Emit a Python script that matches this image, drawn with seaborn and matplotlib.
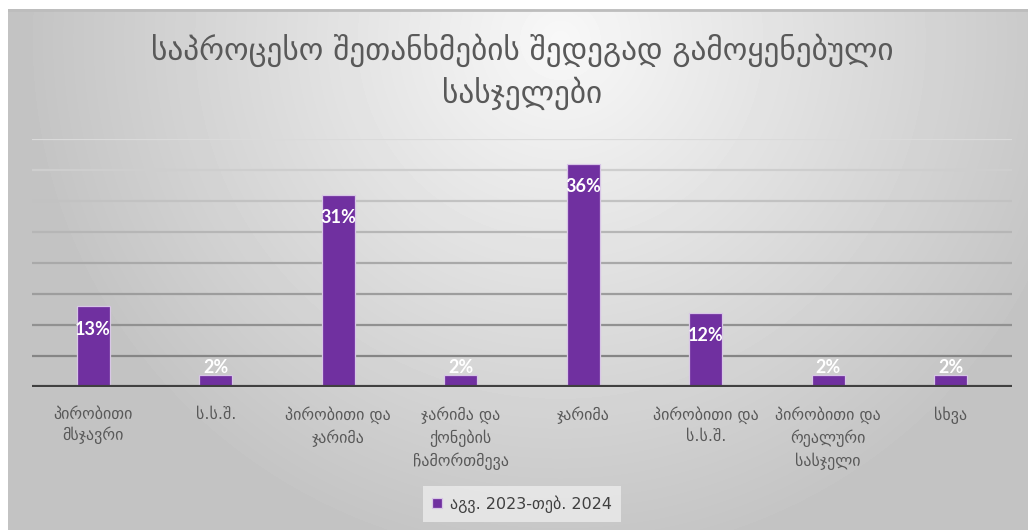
import numpy as np
import pandas as pd
import matplotlib
matplotlib.use("Agg")
import matplotlib.pyplot as plt
import seaborn as sns
from matplotlib.colors import to_rgb

# Data
categories = [
    "პირობითი\nმსჯავრი",
    "ს.ს.შ.",
    "პირობითი და\nჯარიმა",
    "ჯარიმა და\nქონების\nჩამორთმევა",
    "ჯარიმა",
    "პირობითი და\nს.ს.შ.",
    "პირობითი და\nრეალური\nსასჯელი",
    "სხვა",
]
shares = [13, 2, 31, 2, 36, 12, 2, 2]
series_name = "აგვ. 2023-თებ. 2024"
title_text = "საპროცესო შეთანხმების შედეგად გამოყენებული\nსასჯელები"

W, H, DPI = 1028, 530, 100
BAR = "#7030A0"
TEXT = "#595959"

sns.set_theme(style="white")
plt.rcParams["font.family"] = ["DejaVu Sans"]

df = pd.DataFrame({"category": categories, "share": shares, "period": series_name})

fig = plt.figure(figsize=(W / DPI, H / DPI), dpi=DPI)
fig.patch.set_facecolor("white")

# Slide background: soft radial grey gradient
bg = fig.add_axes([8 / W, 0, 1 - 8 / W, (H - 9) / H], zorder=-10)
yy, xx = np.mgrid[9:H, 8:W]
r = np.sqrt(((xx - 560) / 530.0) ** 2 + ((yy - 40) / 520.0) ** 2)
v = 248 - 52 * np.clip(r, 0, 1)
bg.imshow(v, cmap="gray", vmin=0, vmax=255, aspect="auto", interpolation="bilinear")
bg.axhline(0, color="#bdbdbd", lw=2)
bg.set_axis_off()

ax = fig.add_axes([32 / W, (H - 387) / H, 980 / W, 248 / H])
ax.patch.set_alpha(0)

sns.barplot(data=df, x="category", y="share", hue="period", palette=[BAR],
            saturation=1, width=0.27, ax=ax, edgecolor="#d8c6e6",
            linewidth=0.9, zorder=3)

ax.set_ylim(0, 40)
ax.set_xlim(-0.5, len(categories) - 0.5)
ticks = np.arange(5, 45, 5)
ax.set_yticks(ticks)
ax.set_yticklabels([])
ax.tick_params(left=False, bottom=False)

# Gridlines shaded lighter towards the top
light, dark = np.array(to_rgb("#dadada")), np.array(to_rgb("#858585"))
for t in ticks:
    f = (t - ticks.min()) / (ticks.max() - ticks.min())
    ax.axhline(t, color=tuple(dark + (light - dark) * f), lw=1.6, zorder=1)
ax.axhline(0, color="#404040", lw=3, zorder=4)

for s in ax.spines.values():
    s.set_visible(False)

ax.set_xlabel("")
ax.set_ylabel("")
ax.set_xticks(range(len(categories)))
ax.set_xticklabels(categories, fontsize=11.5, color=TEXT, linespacing=1.4)
ax.tick_params(axis="x", pad=8)

# Value labels
for i, val in enumerate(shares):
    off = -23 if val >= 5 else 7
    ax.annotate(f"{val}%", (i, val), xytext=(0, off), textcoords="offset pixels",
                ha="center", va="center", color="white", fontsize=13,
                fontweight="bold", family=["Lato", "DejaVu Sans"], zorder=5)

leg = ax.legend(loc="center", bbox_to_anchor=(522 / W, 1 - 504 / H),
                bbox_transform=fig.transFigure, frameon=True, fontsize=11.5,
                handlelength=0.6, handleheight=0.6, handletextpad=0.5,
                borderpad=0.6, fancybox=False)
leg.get_frame().set_facecolor("#e8e8e8")
leg.get_frame().set_edgecolor("none")
leg.get_frame().set_alpha(0.9)
for txt in leg.get_texts():
    txt.set_color("#404040")

fig.text(522 / W, 1 - 72 / H, title_text, ha="center", va="center",
         fontsize=22.5, color=TEXT, linespacing=1.35)

fig.savefig("out.png", dpi=DPI)
